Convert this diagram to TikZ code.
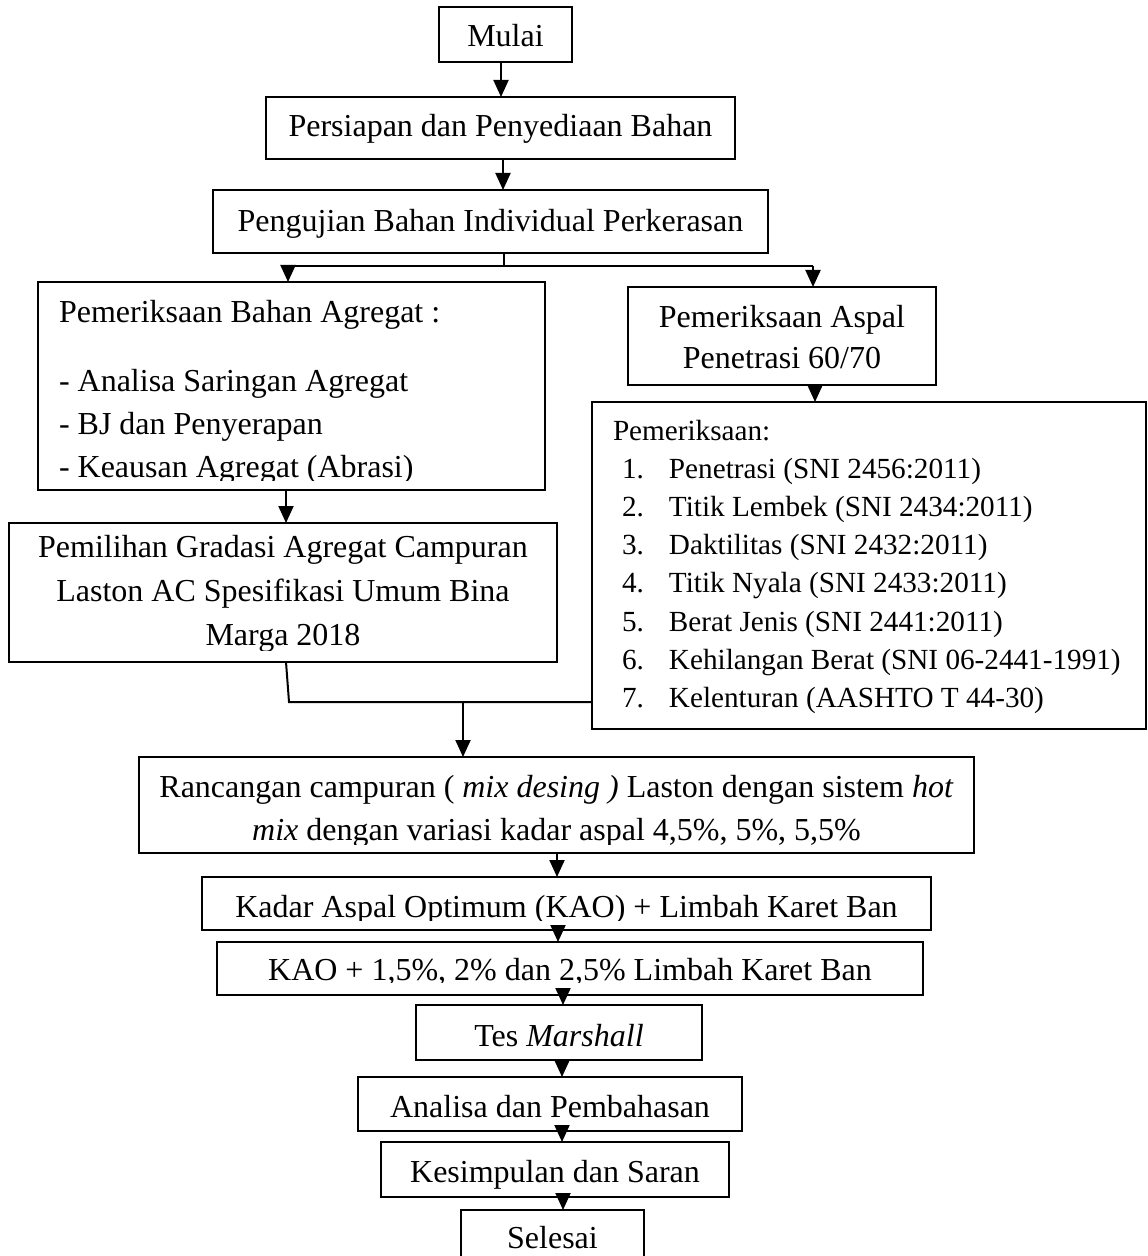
\documentclass[tikz,border=0pt]{standalone}
\usepackage{fontspec}
\setmainfont{Liberation Serif}
\usetikzlibrary{arrows.meta}
\begin{document}
\begin{tikzpicture}[x=0.5pt,y=-0.5pt,
  box/.style={draw, line width=1.3pt, inner sep=0pt, outer sep=0pt, anchor=north west},
  thinbox/.style={box, line width=0.6pt},
  txt/.style={inner sep=0pt, outer sep=0pt, anchor=base, font=\fontsize{16}{22}\selectfont},
  arr/.style={line width=1pt, -{Triangle[length=8.5pt,width=7.5pt]}},
  ln/.style={line width=0.6pt},
  lnb/.style={line width=1pt}]
\fill[white] (0,0) rectangle (1147,1256);
\useasboundingbox (0,0) rectangle (1147,1256);

% boxes
\node[thinbox, minimum width=66.5pt, minimum height=27.5pt] (mulai) at (439,7) {};
\node[box, minimum width=234.5pt, minimum height=31pt] (persiapan) at (266,97) {};
\node[box, minimum width=277.5pt, minimum height=31.5pt] (pengujian) at (213,190) {};
\node[box, minimum width=253.5pt, minimum height=104pt] (agregat) at (38,282) {};
\node[box, minimum width=274pt, minimum height=69.5pt] (pemilihan) at (9,523) {};
\node[box, minimum width=154pt, minimum height=49pt] (aspal) at (628,287) {};
\node[box, minimum width=277pt, minimum height=163.5pt] (list) at (592,402) {};
\node[box, minimum width=417.5pt, minimum height=48pt] (rancangan) at (139,757) {};
\node[box, minimum width=364.5pt, minimum height=26.5pt] (kadar) at (202,877) {};
\node[box, minimum width=353pt, minimum height=26.5pt] (kao) at (217,942) {};
\node[box, minimum width=143pt, minimum height=27.5pt] (tes) at (416,1005) {};
\node[box, minimum width=192pt, minimum height=27pt] (analisa) at (358,1077) {};
\node[box, minimum width=174pt, minimum height=27.5pt] (kesimpulan) at (381,1142) {};
\node[thinbox, minimum width=91.5pt, minimum height=35pt] (selesai) at (461,1210) {};

% texts
\node[txt] (tmulai) at (505.5,47) {Mulai};
\node[txt] (tpersiapan) at (500.5,137) {Persiapan dan Penyediaan Bahan};
\node[txt] (tpengujian) at (490.5,232) {Pengujian Bahan Individual Perkerasan};
\begin{scope}
  \clip (38,282) rectangle (545,480);
  \node[txt, anchor=base west, text width=240pt, align=flush left, font=\fontsize{16}{21.5}\selectfont] (tagregat) at (59,323)
    {Pemeriksaan Bahan Agregat :\\[13pt]- Analisa Saringan Agregat\\- BJ dan Penyerapan\\- Keausan Agregat (Abrasi)};
\end{scope}
\begin{scope}
  \clip (9,523) rectangle (557,650);
  \node[txt, text width=270pt, align=flush center, font=\fontsize{16}{22}\selectfont] (tpemilihan) at (283,557)
    {Pemilihan Gradasi Agregat Campuran\\Laston AC Spesifikasi Umum Bina\\Marga 2018};
\end{scope}
\node[txt, text width=150pt, align=flush center, font=\fontsize{16}{20.5}\selectfont] (taspal) at (782,328)
  {Pemeriksaan Aspal\\Penetrasi 60/70};
\node[txt, anchor=base west, text width=270pt, align=flush left, font=\fontsize{14.6}{19.1}\selectfont] (tlist) at (613,440)
  {Pemeriksaan:\\
   \hspace*{4.5pt}\makebox[23.5pt][l]{1.}Penetrasi (SNI 2456:2011)\\
   \hspace*{4.5pt}\makebox[23.5pt][l]{2.}Titik Lembek (SNI 2434:2011)\\
   \hspace*{4.5pt}\makebox[23.5pt][l]{3.}Daktilitas (SNI 2432:2011)\\
   \hspace*{4.5pt}\makebox[23.5pt][l]{4.}Titik Nyala (SNI 2433:2011)\\
   \hspace*{4.5pt}\makebox[23.5pt][l]{5.}Berat Jenis (SNI 2441:2011)\\
   \hspace*{4.5pt}\makebox[23.5pt][l]{6.}Kehilangan Berat (SNI 06-2441-1991)\\
   \hspace*{4.5pt}\makebox[23.5pt][l]{7.}Kelenturan (AASHTO T 44-30)};
\begin{scope}
  \clip (139,757) rectangle (974,844);
  \node[txt, text width=410pt, align=flush center, font=\fontsize{16}{21.5}\selectfont] (trancangan) at (556.5,797)
    {Rancangan campuran ( \textit{mix desing )} Laston dengan sistem \textit{hot}\\\textit{mix} dengan variasi kadar aspal 4,5\%, 5\%, 5,5\%};
\end{scope}
\begin{scope}
  \clip (202,877) rectangle (931,920);
  \node[txt] (tkadar) at (566.5,917) {Kadar Aspal Optimum (KAO) + Limbah Karet Ban};
\end{scope}
\begin{scope}
  \clip (217,942) rectangle (923,982);
  \node[txt] (tkao) at (570,980) {KAO + 1,5\%, 2\% dan 2,5\% Limbah Karet Ban};
\end{scope}
\node[txt] (ttes) at (559,1046) {Tes \textit{Marshall}};
\node[txt] (tanalisa) at (550,1117) {Analisa dan Pembahasan};
\node[txt] (tkesimpulan) at (555,1182) {Kesimpulan dan Saran};
\node[txt] (tselesai) at (552.5,1248) {Selesai};

% helper coordinates
\path (501,0) coordinate (c1) (503,0) coordinate (c2) (504,266) coordinate (bj)
      (288,266) coordinate (bl) (813,266) coordinate (br) (286,0) coordinate (c3)
      (815,0) coordinate (c4) (289,702) coordinate (mj) (463,702) coordinate (mr)
      (557,0) coordinate (c5) (558,0) coordinate (c6) (563,0) coordinate (c7)
      (562,0) coordinate (c8) (562,0) coordinate (c9) (563,0) coordinate (c10);

% connectors
\draw[arr] (mulai.south -| c1) -- (persiapan.north -| c1);
\draw[arr] (persiapan.south -| c2) -- (pengujian.north -| c2);
\draw[ln] (pengujian.south -| bj) -- (bj);
\draw[ln] (bl) -- (br);
\draw[arr] (bl) -- (agregat.north -| bl);
\draw[arr] (br) -- (aspal.north -| br);
\draw[arr] (agregat.south -| c3) -- (pemilihan.north -| c3);
\draw[arr] (aspal.south -| c4) -- (list.north -| c4);
\draw[lnb] (pemilihan.south -| c3) -- (mj) -- (mj -| list.west);
\draw[arr] (mr) -- (rancangan.north -| mr);
\draw[arr] (rancangan.south -| c5) -- (kadar.north -| c5);
\draw[arr] (kadar.south -| c6) -- (kao.north -| c6);
\draw[arr] (kao.south -| c7) -- (tes.north -| c7);
\draw[arr] (tes.south -| c8) -- (analisa.north -| c8);
\draw[arr] (analisa.south -| c9) -- (kesimpulan.north -| c9);
\draw[arr] (kesimpulan.south -| c10) -- (selesai.north -| c10);
\end{tikzpicture}
\end{document}
